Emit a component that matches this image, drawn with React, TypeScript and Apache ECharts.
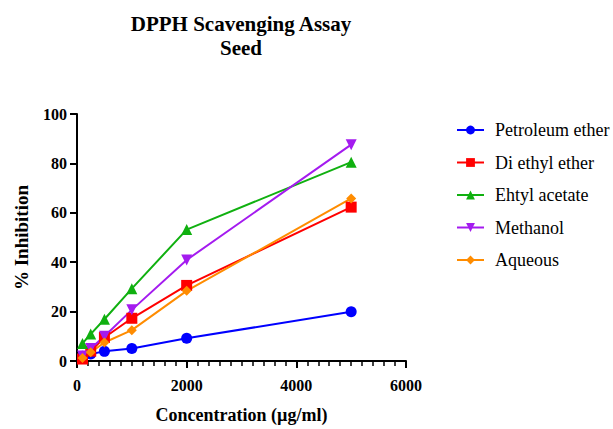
import React, { useEffect, useRef } from "react";
import * as echarts from "echarts";

const concentrations = [100, 250, 500, 1000, 2000, 5000];
const petroleumEther = [1.9, 2.8, 3.9, 5.1, 9.2, 19.9];
const diEthylEther = [0.8, 4.0, 9.5, 17.3, 30.6, 62.3];
const ethylAcetate = [7.1, 10.9, 16.9, 29.3, 53.2, 80.5];
const methanol = [2.0, 5.1, 10.0, 20.7, 40.9, 87.6];
const aqueous = [1.2, 3.5, 7.5, 12.5, 28.4, 65.8];

const seriesNames = ["Petroleum ether", "Di ethyl ether", "Ehtyl acetate", "Methanol", "Aqueous"];
const seriesData = [petroleumEther, diEthylEther, ethylAcetate, methanol, aqueous];
const seriesColors = ["#0000FF", "#FF0000", "#10B010", "#A41BEF", "#FF8C00"];
const seriesSymbols = ["circle", "rect", "triangle", "path://M0,0 L10,0 L5,10 Z", "diamond"];
const symbolSizes = [11, 11, 11, 11, 10];

export default function App() {
  const ref = useRef<HTMLDivElement>(null);
  useEffect(() => {
    if (!ref.current) return;
    const chart = echarts.init(ref.current, undefined, { renderer: "svg" });
    const font = "Liberation Serif";
    chart.setOption({
      animation: false,
      backgroundColor: "#ffffff",
      textStyle: { fontFamily: font },
      graphic: [
        {
          type: "text",
          x: 241,
          y: 12,
          style: {
            text: "DPPH Scavenging Assay\nSeed",
            align: "center",
            fontFamily: font,
            fontWeight: "bold",
            fontSize: 21,
            lineHeight: 24,
            fill: "#000",
          },
        },
      ],
      legend: {
        orient: "vertical",
        left: 451,
        top: 116,
        itemWidth: 27,
        itemHeight: 11,
        itemGap: 14.5,
        textStyle: { fontFamily: font, fontSize: 18, color: "#000", padding: [0, 0, 0, 6] },
        data: seriesNames,
      },
      grid: { left: 77, right: 207, top: 114, bottom: 67 },
      xAxis: {
        type: "value",
        min: 0,
        max: 6000,
        interval: 2000,
        name: "Concentration (µg/ml)",
        nameLocation: "middle",
        nameGap: 45,
        nameTextStyle: { fontFamily: font, fontWeight: "bold", fontSize: 18, color: "#000" },
        axisLine: { show: true, onZero: false, lineStyle: { color: "#000", width: 2 } },
        axisTick: { show: true, length: 7, lineStyle: { color: "#000", width: 2 } },
        minorTick: { show: true, splitNumber: 10, length: 5, lineStyle: { color: "#000", width: 1.5 } },
        axisLabel: {
          fontFamily: font,
          fontWeight: "bold",
          fontSize: 16,
          color: "#000",
          margin: 16,
          formatter: (v: number) => String(v),
        },
        splitLine: { show: false },
      },
      yAxis: {
        type: "value",
        min: 0,
        max: 100,
        interval: 20,
        name: "% Inhibition",
        nameLocation: "middle",
        nameGap: 46,
        nameTextStyle: { fontFamily: font, fontWeight: "bold", fontSize: 19, color: "#000" },
        axisLine: { show: true, onZero: false, lineStyle: { color: "#000", width: 2 } },
        axisTick: { show: true, length: 7, lineStyle: { color: "#000", width: 2 } },
        axisLabel: { fontFamily: font, fontWeight: "bold", fontSize: 16, color: "#000", margin: 10 },
        splitLine: { show: false },
      },
      series: seriesNames.map((name, i) => ({
        name,
        type: "line",
        data: concentrations.map((c, j) => [c, seriesData[i][j]]),
        symbol: seriesSymbols[i],
        symbolSize: symbolSizes[i],
        showAllSymbol: true,
        lineStyle: { color: seriesColors[i], width: 2 },
        itemStyle: { color: seriesColors[i] },
        color: seriesColors[i],
      })),
    });
    return () => chart.dispose();
  }, []);
  return (
    <div
      ref={ref}
      style={{ position: "fixed", left: 0, top: 0, width: 613, height: 429, background: "#fff" }}
    />
  );
}
